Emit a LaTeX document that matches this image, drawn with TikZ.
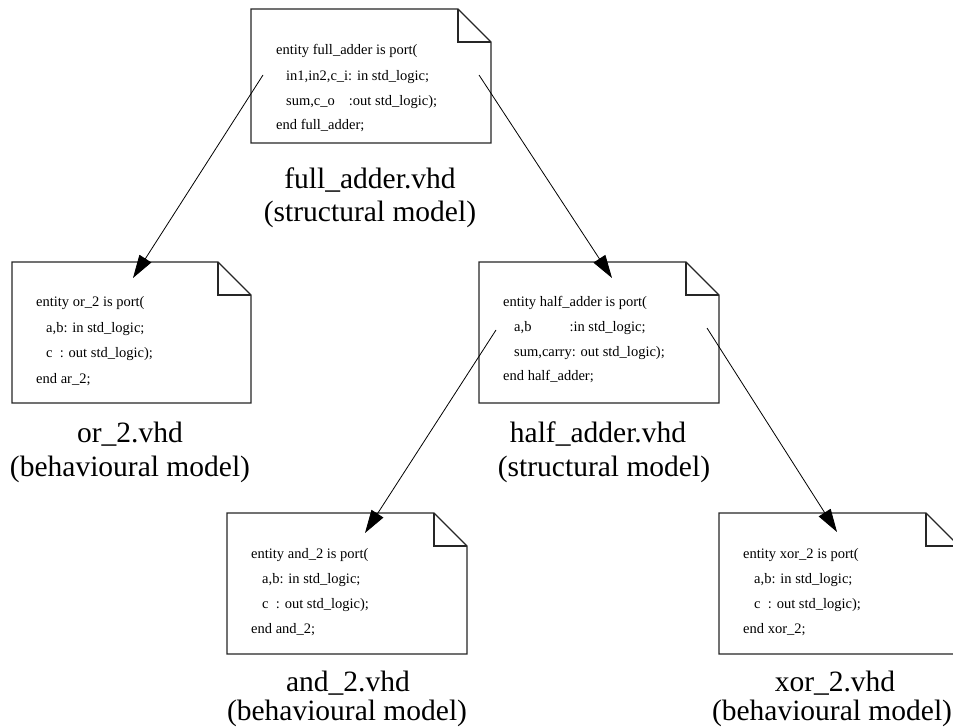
\documentclass[tikz,border=0pt]{standalone}
\usepackage{fontspec}
\setmainfont{Liberation Serif}
\usetikzlibrary{arrows.meta}
\begin{document}
\begin{tikzpicture}[x=1pt,y=-1pt,
  docline/.style={draw=black!85,line width=1.2pt,line join=miter},
  code/.style={font=\fontsize{14.5}{17}\selectfont,anchor=base west,inner sep=0pt},
  lbl/.style={font=\fontsize{29.5}{33}\selectfont,anchor=base,inner sep=0pt},
  link/.style={line width=0.8pt,-{Triangle[length=23pt,width=14pt]}}]
\useasboundingbox (0,0) rectangle (953,727);
\clip (0,0) rectangle (953,727);
% documents
\newcommand{\vhddoc}[5]{% x1,y1,x2,y2,fold
  \path[docline,fill=white] (#1,#2) -- (#3-#5,#2) -- (#3,#2+#5) -- (#3,#4) -- (#1,#4) -- cycle;
  \path[docline] (#3-#5,#2) -- (#3-#5,#2+#5) -- (#3,#2+#5);}
\vhddoc{251}{9}{491}{143}{33}
\vhddoc{12}{262}{251}{403}{33}
\vhddoc{479}{262}{719}{403}{33}
\vhddoc{227}{513}{467}{654}{33}
\vhddoc{719}{513}{959}{654}{33}
% full_adder text
\node[code] (fa1) at (276,55) {entity full\_adder is port(};
\node[code] (fa2) at (286,81) {in1,in2,c\_i: in std\_logic;};
\node[code] (fa3) at (286,106) {sum,c\_o\hspace{14pt}:out std\_logic);};
\node[code] (fa4) at (276,130) {end full\_adder;};
% or_2 text
\node[code] (or1) at (36,307) {entity or\_2 is port(};
\node[code] (or2) at (46,333) {a,b: in std\_logic;};
\node[code] (or3) at (46,357) {c\ \ : out std\_logic);};
\node[code] (or4) at (36,383) {end ar\_2;};
% half_adder text
\node[code] (ha1) at (503,306) {entity half\_adder is port(};
\node[code] (ha2) at (514,331) {a,b\hspace{38pt}:in std\_logic;};
\node[code] (ha3) at (514,356) {sum,carry: out std\_logic);};
\node[code] (ha4) at (503,380) {end half\_adder;};
% and_2 text
\node[code] (an1) at (251,558) {entity and\_2 is port(};
\node[code] (an2) at (262,583) {a,b: in std\_logic;};
\node[code] (an3) at (262,608) {c\ \ : out std\_logic);};
\node[code] (an4) at (251,633) {end and\_2;};
% xor_2 text
\node[code] (xo1) at (743,558) {entity xor\_2 is port(};
\node[code] (xo2) at (754,583) {a,b: in std\_logic;};
\node[code] (xo3) at (754,608) {c\ \ : out std\_logic);};
\node[code] (xo4) at (743,633) {end xor\_2;};
% labels
\node[lbl] (faL1) at (370,189) {full\_adder.vhd};
\node[lbl] (faL2) at (370,222) {(structural model)};
\node[lbl] (orL1) at (130,442) {or\_2.vhd};
\node[lbl] (orL2) at (130,476) {(behavioural model)};
\node[lbl] (haL1) at (598,442) {half\_adder.vhd};
\node[lbl] (haL2) at (604,476) {(structural model)};
\node[lbl] (anL1) at (348,691) {and\_2.vhd};
\node[lbl] (anL2) at (347,720) {(behavioural model)};
\node[lbl] (xoL1) at (835,691) {xor\_2.vhd};
\node[lbl] (xoL2) at (832,720) {(behavioural model)};
% connector ends
\coordinate (faOutL) at (263,75);
\coordinate (faOutR) at (479,75);
\coordinate (orIn) at (133,278);
\coordinate (haIn) at (612,278);
\coordinate (haOutL) at (496,330);
\coordinate (haOutR) at (707,328);
\coordinate (anIn) at (365,533);
\coordinate (xoIn) at (837,532);
\draw[link] (faOutL) -- (orIn);
\draw[link] (faOutR) -- (haIn);
\draw[link] (haOutL) -- (anIn);
\draw[link] (haOutR) -- (xoIn);
\end{tikzpicture}
\end{document}
